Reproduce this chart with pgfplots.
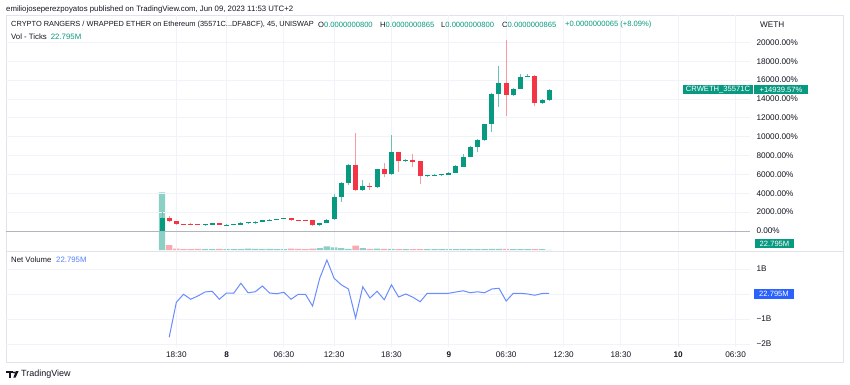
\documentclass[border=0pt]{standalone}
\usepackage{pgfplots}
\pgfplotsset{compat=1.18}
\usepackage{pgfplotstable}
\usepackage{fontspec}
\setmainfont{Liberation Sans}
\definecolor{tvgreen}{HTML}{089981}
\definecolor{tvred}{HTML}{F23645}
\definecolor{tvgrid}{HTML}{F0F3FA}
\definecolor{tvborder}{HTML}{E0E3EB}
\definecolor{tvtext}{HTML}{131722}
\definecolor{tvblue}{HTML}{2962FF}
\definecolor{nvline}{HTML}{6A8CFF}
\definecolor{volgreen}{HTML}{8CD0C5}
\definecolor{volred}{HTML}{F9AAB1}
\definecolor{zeroline}{HTML}{B2B5BE}
\newcommand\fs[1]{\fontsize{#1}{#1}\selectfont}

% i = bar index (45-minute bars), o h l c in percent, v = volume in millions
\pgfplotstableread{
i o h l c v
0 0 2042 0 1344 576
6 600 720 580 700 8
7 670 880 650 850 10
9 610 690 600 670 10
10 670 760 650 740 8
11 670 950 650 880 10
12 810 940 790 920 15
13 810 1010 790 990 12
14 950 1180 930 1160 10
15 1090 1220 1070 1200 12
16 1160 1290 1140 1270 10
17 1240 1400 1220 1375 10
22 600 900 580 880 20
23 815 1250 800 1200 36
24 1235 3915 1150 3630 26
25 3630 5180 3100 5050 18
26 5050 7090 4900 6980 12
28 4340 5400 4250 4790 18
30 4690 6600 4600 6530 15
32 6000 10160 5900 8330 12
34 7420 7600 7350 7520 8
37 5800 5950 5750 5900 8
38 5850 6000 5800 5950 8
39 5900 6050 5850 6000 8
40 5920 6250 5900 6170 10
41 6170 6950 6100 6880 10
42 6800 8150 6750 7860 10
43 7860 8990 7800 8920 10
44 8920 9700 8330 9630 10
45 9630 11350 9550 11290 10
46 11290 14650 10500 14570 12
47 14570 17490 13150 15690 12
49 14390 15150 14300 15100 10
50 15100 16690 15050 16330 10
51 16330 16610 16300 16430 8
53 13570 13970 13500 13860 8
54 13860 15050 13800 14940 2.3
}\up
\pgfplotstableread{
i o h l c v
1 1344 1587 1000 1026 50
2 1026 1100 680 709 15
3 720 740 660 690 10
4 780 800 640 660 8
5 700 720 660 680 12
8 850 880 610 630 12
18 1340 1400 1110 1130 15
19 1160 1200 1040 1060 12
20 1130 1160 1010 1030 10
21 1130 1180 580 600 15
27 6980 10370 4230 4340 43
29 4760 5080 4340 4655 12
31 6530 7230 5680 6000 12
33 8330 8400 6270 7440 10
35 7510 8110 6800 7330 10
36 7400 7450 5030 5800 10
48 15690 20210 12170 14390 12
52 16430 16500 13220 13570 10
}\down
% net volume in billions
\pgfplotstableread{
i nv
1 -1.73
2 -0.33
3 -0.01
4 -0.21
5 -0.08
6 0.08
7 0.11
8 -0.21
9 0.04
10 0.03
11 0.43
12 0.05
13 0.09
14 0.32
15 0.04
16 0.01
17 0.07
18 -0.21
19 -0.01
20 -0.01
21 -0.48
22 0.63
23 1.36
24 0.63
25 0.37
26 0.20
27 -0.96
28 0.29
29 -0.16
30 0.11
31 -0.23
32 0.37
33 -0.12
34 0.00
35 -0.13
36 -0.31
37 0.03
38 0.03
39 0.03
40 0.03
41 0.08
42 0.13
43 0.05
44 0.09
45 0.05
46 0.20
47 0.23
48 -0.28
49 0.03
50 0.03
51 0.00
52 -0.05
53 0.02
54 0.023
}\nv

\begin{document}
\begin{tikzpicture}[x=1pt,y=1pt]
\fill[white] (0,0) rectangle (850,384);
\draw[tvborder, line width=0.8pt] (6,22) rectangle (843,369);
\draw[tvborder, line width=0.8pt] (6,133) -- (843,133);

% volume (behind)
\begin{axis}[at={(6pt,134pt)}, anchor=south west, scale only axis,
  width=744pt, height=235pt, xmin=-21.76, xmax=82.01, ymin=0, ymax=2350, hide axis]
\addplot[ybar, bar width=6.4pt, bar shift=0pt, fill=volgreen, draw=none] table[x=i,y=v]{\up};
\addplot[ybar, bar width=6.4pt, bar shift=0pt, fill=volred, draw=none] table[x=i,y=v]{\down};
\end{axis}

% price panel
\begin{axis}[at={(6pt,134pt)}, anchor=south west, scale only axis,
  width=744pt, height=235pt, xmin=-21.76, xmax=82.01, ymin=-2014, ymax=22896,
  axis line style={draw=none}, tick style={draw=none}, scaled y ticks=false,
  xtick={2,9,17,24,32,40,48,56,64,72,80}, xticklabels={},
  ytick={0,2000,4000,6000,8000,10000,12000,14000,16000,18000,20000},
  yticklabels={0.00\%,2000.00\%,4000.00\%,6000.00\%,8000.00\%,10000.00\%,12000.00\%,14000.00\%,16000.00\%,18000.00\%,20000.00\%},
  yticklabel pos=right,
  yticklabel style={anchor=west, font=\fs{8.2}, text=tvtext, xshift=3pt},
  grid=major, major grid style={tvgrid, line width=0.8pt}]
\draw[zeroline, line width=1pt] (-21.76,0) -- (82.01,0);
% wicks
\addplot[draw=none, mark=none, error bars/.cd, y dir=plus, y explicit, error mark=none,
  error bar style={line width=1pt, draw=tvgreen!60!white}]
  table[x=i, y=l, y error plus expr=\thisrow{h}-\thisrow{l}]{\up};
\addplot[draw=none, mark=none, error bars/.cd, y dir=plus, y explicit, error mark=none,
  error bar style={line width=1pt, draw=tvred!50!white}]
  table[x=i, y=l, y error plus expr=\thisrow{h}-\thisrow{l}]{\down};
% bodies
\addplot[draw=none, mark=none, error bars/.cd, y dir=plus, y explicit, error mark=none,
  error bar style={line width=5pt, draw=tvgreen}]
  table[x=i, y=o, y error plus expr=\thisrow{c}-\thisrow{o}]{\up};
\addplot[draw=none, mark=none, error bars/.cd, y dir=plus, y explicit, error mark=none,
  error bar style={line width=5pt, draw=tvred}]
  table[x=i, y=c, y error plus expr=\thisrow{o}-\thisrow{c}]{\down};
\end{axis}

% net volume panel
\begin{axis}[at={(6pt,37pt)}, anchor=south west, scale only axis,
  width=744pt, height=95pt, xmin=-21.76, xmax=82.01, ymin=-2.12, ymax=1.68,
  axis line style={draw=none}, tick style={draw=none},
  xtick={2,9,17,24,32,40,48,56,64,72,80}, xticklabels={},
  ytick={-2,-1,0,1}, yticklabels={−2B,−1B,,1B},
  yticklabel pos=right,
  yticklabel style={anchor=west, font=\fs{8.2}, text=tvtext, xshift=3pt},
  grid=major, major grid style={tvgrid, line width=0.8pt}]
\addplot[nvline, line width=1pt] table[x=i,y=nv]{\nv};
\end{axis}

% time-axis strip
\fill[white] (6.5,22.5) rectangle (842.5,37.5);
\begin{axis}[at={(6pt,37pt)}, anchor=south west, scale only axis,
  width=744pt, height=95pt, xmin=-21.76, xmax=82.01, ymin=0, ymax=1,
  axis line style={draw=none}, tick style={draw=none}, ytick=\empty,
  xtick={2,9,17,24,32,40,48,56,64,72,80},
  xticklabels={18:30,\textbf{8},06:30,12:30,18:30,\textbf{9},06:30,12:30,18:30,\textbf{10},06:30},
  xticklabel style={font=\fs{8.2}, text=tvtext, yshift=-1pt}]
\addplot[draw=none] coordinates {(0,0.5)};
\end{axis}

% header texts
\node[anchor=west, inner sep=0, font=\fs{7.8}, text=tvtext] at (6,374.7) {emiliojoseperezpoyatos published on TradingView.com, Jun 09, 2023 11:53 UTC+2};
\node[anchor=west, inner sep=0, font=\fs{7.4}, text=tvtext] at (11,359) {CRYPTO RANGERS / WRAPPED ETHER on Ethereum (35571C...DFA8CF), 45, UNISWAP};
\node[anchor=west, inner sep=0, font=\fs{7.6}, text=tvtext] at (318,359) {O\textcolor{tvgreen}{0.0000000800}};
\node[anchor=west, inner sep=0, font=\fs{7.6}, text=tvtext] at (380,359) {H\textcolor{tvgreen}{0.0000000865}};
\node[anchor=west, inner sep=0, font=\fs{7.6}, text=tvtext] at (441,359) {L\textcolor{tvgreen}{0.0000000800}};
\node[anchor=west, inner sep=0, font=\fs{7.6}, text=tvtext] at (502,359) {C\textcolor{tvgreen}{0.0000000865}};
\node[anchor=west, inner sep=0, font=\fs{7.6}, text=tvgreen] at (565,359) {+0.0000000065 (+8.09\%)};
\node[anchor=west, inner sep=0, font=\fs{7.8}, text=tvtext] at (11,347.3) {Vol - Ticks};
\node[anchor=west, inner sep=0, font=\fs{7.8}, text=tvgreen] at (50.7,347.3) {22.795M};
\node[anchor=west, inner sep=0, font=\fs{8.2}, text=tvtext] at (760,359.5) {WETH};
\node[anchor=west, inner sep=0, font=\fs{7.8}, text=tvtext] at (11,124) {Net Volume};
\node[anchor=west, inner sep=0, font=\fs{7.8}, text=tvblue!80!white] at (56,124) {22.795M};

% price-scale labels
\node[fill=tvgreen, text=white, font=\fs{7.6}, inner sep=0, minimum width=70pt, minimum height=9.5pt] at (718,294.5) {CRWETH\_35571C};
\node[fill=tvgreen, text=white, font=\fs{7.6}, inner sep=0, minimum width=54pt, minimum height=9.5pt] at (781,294.5) {+14939.57\%};
\node[fill=tvgreen, text=white, font=\fs{7.6}, inner sep=0, minimum width=39pt, minimum height=9.5pt] at (774.5,140.5) {22.795M};
\node[fill=tvblue, text=white, font=\fs{7.6}, inner sep=0, minimum width=40pt, minimum height=10pt] at (774,90) {22.795M};

% footer logo
\fill[tvtext] (6,13) rectangle (12.5,11);
\fill[tvtext] (9.3,11) rectangle (11.3,6.5);
\fill[tvtext] (14,11.6) circle (1.1);
\fill[tvtext] (15.8,13) -- (18.6,13) -- (15.6,6.5) -- (13.4,6.5) -- cycle;
\node[anchor=west, inner sep=0, font=\fs{9}, text=tvtext] at (21,10) {TradingView};
\end{tikzpicture}
\end{document}
